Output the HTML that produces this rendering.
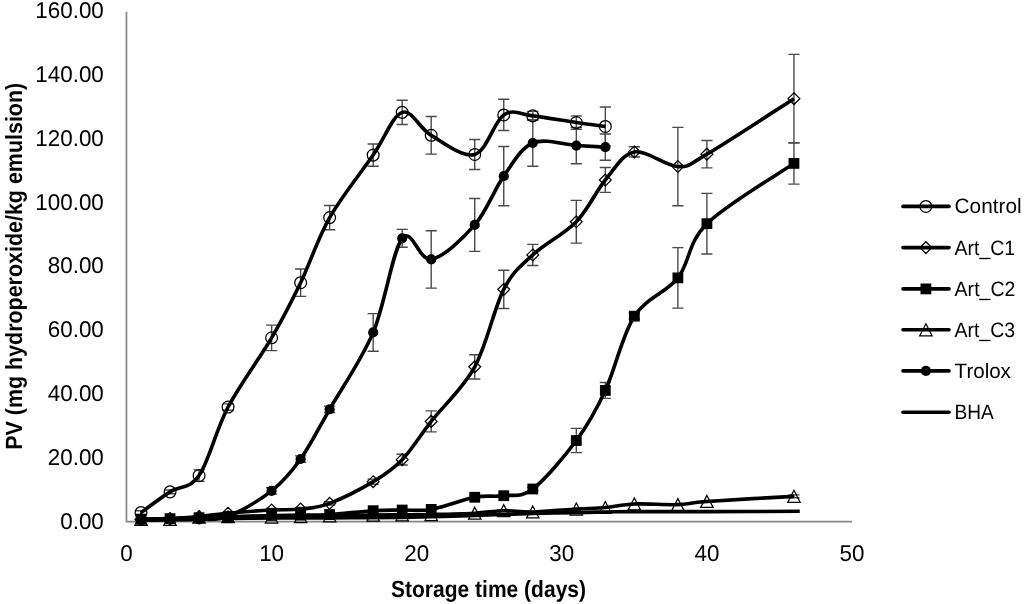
<!DOCTYPE html>
<html><head><meta charset="utf-8"><style>
html,body{margin:0;padding:0;background:#fff;}
svg{display:block;}
svg{will-change:transform;}
text{text-rendering:geometricPrecision;}
.t{font-family:"Liberation Sans",sans-serif;font-size:22.9px;fill:#000;}
.b{font-family:"Liberation Sans",sans-serif;font-size:23.4px;font-weight:bold;fill:#000;}
.l{font-family:"Liberation Sans",sans-serif;font-size:20.8px;fill:#000;}
</style></head><body>
<svg width="1024" height="604" viewBox="0 0 1024 604">
<rect width="1024" height="604" fill="#fff"/>
<path d="M126.45,11.7V521.6H852" fill="none" stroke="#868686" stroke-width="1.7"/>
<text x="103.8" y="528.60" text-anchor="end" class="t" textLength="43.59" lengthAdjust="spacingAndGlyphs">0.00</text>
<text x="103.8" y="464.82" text-anchor="end" class="t" textLength="56.05" lengthAdjust="spacingAndGlyphs">20.00</text>
<text x="103.8" y="401.04" text-anchor="end" class="t" textLength="56.05" lengthAdjust="spacingAndGlyphs">40.00</text>
<text x="103.8" y="337.26" text-anchor="end" class="t" textLength="56.05" lengthAdjust="spacingAndGlyphs">60.00</text>
<text x="103.8" y="273.48" text-anchor="end" class="t" textLength="56.05" lengthAdjust="spacingAndGlyphs">80.00</text>
<text x="103.8" y="209.70" text-anchor="end" class="t" textLength="68.48" lengthAdjust="spacingAndGlyphs">100.00</text>
<text x="103.8" y="145.92" text-anchor="end" class="t" textLength="68.48" lengthAdjust="spacingAndGlyphs">120.00</text>
<text x="103.8" y="82.14" text-anchor="end" class="t" textLength="68.48" lengthAdjust="spacingAndGlyphs">140.00</text>
<text x="103.8" y="18.36" text-anchor="end" class="t" textLength="68.48" lengthAdjust="spacingAndGlyphs">160.00</text>
<text x="126.50" y="560.6" text-anchor="middle" class="t" textLength="12.45" lengthAdjust="spacingAndGlyphs">0</text>
<text x="271.60" y="560.6" text-anchor="middle" class="t" textLength="24.90" lengthAdjust="spacingAndGlyphs">10</text>
<text x="416.70" y="560.6" text-anchor="middle" class="t" textLength="24.90" lengthAdjust="spacingAndGlyphs">20</text>
<text x="561.80" y="560.6" text-anchor="middle" class="t" textLength="24.90" lengthAdjust="spacingAndGlyphs">30</text>
<text x="706.90" y="560.6" text-anchor="middle" class="t" textLength="24.90" lengthAdjust="spacingAndGlyphs">40</text>
<text x="852.00" y="560.6" text-anchor="middle" class="t" textLength="24.90" lengthAdjust="spacingAndGlyphs">50</text>
<text x="488.5" y="597.3" text-anchor="middle" class="b" textLength="195" lengthAdjust="spacingAndGlyphs">Storage time (days)</text>
<text transform="translate(22.2,266.3) rotate(-90)" x="0" y="0" text-anchor="middle" class="b" textLength="367" lengthAdjust="spacingAndGlyphs">PV (mg hydroperoxide/kg emulsion)</text>
<path d="M141.01,510.68V514.50M135.41,510.68H146.61M135.41,514.50H146.61M170.03,489.95V493.77M164.43,489.95H175.63M164.43,493.77H175.63M199.05,469.86V481.34M193.45,469.86H204.65M193.45,481.34H204.65M228.07,403.84V410.22M222.47,403.84H233.67M222.47,410.22H233.67M271.60,325.08V350.59M266.00,325.08H277.20M266.00,350.59H277.20M300.62,268.95V296.38M295.02,268.95H306.22M295.02,296.38H306.22M329.64,205.49V229.73M324.04,205.49H335.24M324.04,229.73H335.24M373.17,143.94V166.26M367.57,143.94H378.77M367.57,166.26H378.77M402.19,100.25V124.49M396.59,100.25H407.79M396.59,124.49H407.79M431.21,116.52V154.15M425.61,116.52H436.81M425.61,154.15H436.81M474.74,139.48V169.45M469.14,139.48H480.34M469.14,169.45H480.34M503.76,99.30V130.55M498.16,99.30H509.36M498.16,130.55H509.36M532.78,111.41V120.34M527.18,111.41H538.38M527.18,120.34H538.38M576.31,115.88V129.27M570.71,115.88H581.91M570.71,129.27H581.91M605.33,106.95V145.85M599.73,106.95H610.93M599.73,145.85H610.93" fill="none" stroke="#4a4a4a" stroke-width="1.4"/>
<path d="M271.60,508.44V511.63M266.00,508.44H277.20M266.00,511.63H277.20M300.62,507.49V510.68M295.02,507.49H306.22M295.02,510.68H306.22M329.64,501.75V504.94M324.04,501.75H335.24M324.04,504.94H335.24M373.17,479.11V484.21M367.57,479.11H378.77M367.57,484.21H378.77M402.19,454.23V465.07M396.59,454.23H407.79M396.59,465.07H407.79M431.21,410.86V431.91M425.61,410.86H436.81M425.61,431.91H436.81M474.74,354.73V378.97M469.14,354.73H480.34M469.14,378.97H480.34M503.76,270.23V308.49M498.16,270.23H509.36M498.16,308.49H509.36M532.78,244.39V265.44M527.18,244.39H538.38M527.18,265.44H538.38M576.31,200.39V243.12M570.71,200.39H581.91M570.71,243.12H581.91M605.33,167.54V192.41M599.73,167.54H610.93M599.73,192.41H610.93M634.35,146.81V157.02M628.75,146.81H639.95M628.75,157.02H639.95M677.88,127.36V205.81M672.28,127.36H683.48M672.28,205.81H683.48M706.90,140.43V167.86M701.30,140.43H712.50M701.30,167.86H712.50M793.96,54.33V142.98M788.36,54.33H799.56M788.36,142.98H799.56" fill="none" stroke="#4a4a4a" stroke-width="1.4"/>
<path d="M474.74,495.69V498.88M469.14,495.69H480.34M469.14,498.88H480.34M503.76,494.09V497.28M498.16,494.09H509.36M498.16,497.28H509.36M532.78,487.40V490.59M527.18,487.40H538.38M527.18,490.59H538.38M576.31,428.40V452.64M570.71,428.40H581.91M570.71,452.64H581.91M605.33,382.48V398.42M599.73,382.48H610.93M599.73,398.42H610.93M634.35,312.96V319.34M628.75,312.96H639.95M628.75,319.34H639.95M677.88,247.58V308.17M672.28,247.58H683.48M672.28,308.17H683.48M706.90,193.37V253.96M701.30,193.37H712.50M701.30,253.96H712.50M793.96,142.67V184.12M788.36,142.67H799.56M788.36,184.12H799.56" fill="none" stroke="#4a4a4a" stroke-width="1.4"/>
<path d="M793.96,494.89V497.76M788.36,494.89H799.56M788.36,497.76H799.56" fill="none" stroke="#4a4a4a" stroke-width="1.4"/>
<path d="M199.05,517.69V520.88M193.45,517.69H204.65M193.45,520.88H204.65M228.07,514.82V518.01M222.47,514.82H233.67M222.47,518.01H233.67M271.60,487.72V494.09M266.00,487.72H277.20M266.00,494.09H277.20M300.62,455.83V462.20M295.02,455.83H306.22M295.02,462.20H306.22M329.64,406.08V412.46M324.04,406.08H335.24M324.04,412.46H335.24M373.17,313.60V351.23M367.57,313.60H378.77M367.57,351.23H378.77M402.19,229.41V247.26M396.59,229.41H407.79M396.59,247.26H407.79M431.21,230.68V288.08M425.61,230.68H436.81M425.61,288.08H436.81M474.74,198.47V251.41M469.14,198.47H480.34M469.14,251.41H480.34M503.76,146.49V205.81M498.16,146.49H509.36M498.16,205.81H509.36M532.78,119.70V166.26M527.18,119.70H538.38M527.18,166.26H538.38M576.31,127.36V163.71M570.71,127.36H581.91M570.71,163.71H581.91M605.33,134.06V160.21M599.73,134.06H610.93M599.73,160.21H610.93" fill="none" stroke="#4a4a4a" stroke-width="1.4"/>
<path d="M141.01,512.59 C145.85,509.13 160.36,498.03 170.03,491.86 C179.70,485.70 189.38,489.74 199.05,475.60 C208.72,461.46 215.98,429.99 228.07,407.03 C240.16,384.07 259.51,358.56 271.60,337.83 C283.69,317.10 290.95,302.70 300.62,282.66 C310.29,262.63 317.55,238.87 329.64,217.61 C341.73,196.35 361.08,172.64 373.17,155.10 C385.26,137.56 392.52,115.67 402.19,112.37 C411.86,109.07 419.12,128.32 431.21,135.33 C443.30,142.35 462.65,157.87 474.74,154.47 C486.83,151.06 494.09,121.35 503.76,114.92 C513.43,108.49 520.69,114.60 532.78,115.88 C544.87,117.15 564.22,120.82 576.31,122.58 C588.40,124.33 600.49,125.76 605.33,126.40" fill="none" stroke="#000" stroke-width="3.6" stroke-linejoin="round" stroke-linecap="butt"/>
<circle cx="141.01" cy="512.59" r="5.9" fill="none" stroke="#000" stroke-width="1.25"/><circle cx="170.03" cy="491.86" r="5.9" fill="none" stroke="#000" stroke-width="1.25"/><circle cx="199.05" cy="475.60" r="5.9" fill="none" stroke="#000" stroke-width="1.25"/><circle cx="228.07" cy="407.03" r="5.9" fill="none" stroke="#000" stroke-width="1.25"/><circle cx="271.60" cy="337.83" r="5.9" fill="none" stroke="#000" stroke-width="1.25"/><circle cx="300.62" cy="282.66" r="5.9" fill="none" stroke="#000" stroke-width="1.25"/><circle cx="329.64" cy="217.61" r="5.9" fill="none" stroke="#000" stroke-width="1.25"/><circle cx="373.17" cy="155.10" r="5.9" fill="none" stroke="#000" stroke-width="1.25"/><circle cx="402.19" cy="112.37" r="5.9" fill="none" stroke="#000" stroke-width="1.25"/><circle cx="431.21" cy="135.33" r="5.9" fill="none" stroke="#000" stroke-width="1.25"/><circle cx="474.74" cy="154.47" r="5.9" fill="none" stroke="#000" stroke-width="1.25"/><circle cx="503.76" cy="114.92" r="5.9" fill="none" stroke="#000" stroke-width="1.25"/><circle cx="532.78" cy="115.88" r="5.9" fill="none" stroke="#000" stroke-width="1.25"/><circle cx="576.31" cy="122.58" r="5.9" fill="none" stroke="#000" stroke-width="1.25"/><circle cx="605.33" cy="126.40" r="5.9" fill="none" stroke="#000" stroke-width="1.25"/>
<path d="M141.01,519.61 C145.85,519.45 160.36,519.18 170.03,518.65 C179.70,518.12 189.38,517.32 199.05,516.42 C208.72,515.51 215.98,514.29 228.07,513.23 C240.16,512.16 259.51,510.73 271.60,510.04 C283.69,509.35 290.95,510.20 300.62,509.08 C310.29,507.97 317.55,507.91 329.64,503.34 C341.73,498.77 361.08,488.94 373.17,481.66 C385.26,474.37 392.52,469.70 402.19,459.65 C411.86,449.61 419.12,436.85 431.21,421.38 C443.30,405.92 462.65,388.86 474.74,366.85 C486.83,344.85 494.09,308.02 503.76,289.36 C513.43,270.70 520.69,266.19 532.78,254.92 C544.87,243.65 564.22,234.24 576.31,221.75 C588.40,209.26 595.66,191.62 605.33,179.98 C615.00,168.34 622.26,154.15 634.35,151.91 C646.44,149.68 665.79,166.21 677.88,166.58 C689.97,166.96 687.55,165.47 706.90,154.15 C726.25,142.83 779.45,107.91 793.96,98.66" fill="none" stroke="#000" stroke-width="3.6" stroke-linejoin="round" stroke-linecap="butt"/>
<path d="M141.01,513.71L146.91,519.61L141.01,525.51L135.11,519.61Z" fill="none" stroke="#000" stroke-width="1.25"/><path d="M170.03,512.75L175.93,518.65L170.03,524.55L164.13,518.65Z" fill="none" stroke="#000" stroke-width="1.25"/><path d="M199.05,510.52L204.95,516.42L199.05,522.32L193.15,516.42Z" fill="none" stroke="#000" stroke-width="1.25"/><path d="M228.07,507.33L233.97,513.23L228.07,519.13L222.17,513.23Z" fill="none" stroke="#000" stroke-width="1.25"/><path d="M271.60,504.14L277.50,510.04L271.60,515.94L265.70,510.04Z" fill="none" stroke="#000" stroke-width="1.25"/><path d="M300.62,503.18L306.52,509.08L300.62,514.98L294.72,509.08Z" fill="none" stroke="#000" stroke-width="1.25"/><path d="M329.64,497.44L335.54,503.34L329.64,509.24L323.74,503.34Z" fill="none" stroke="#000" stroke-width="1.25"/><path d="M373.17,475.76L379.07,481.66L373.17,487.56L367.27,481.66Z" fill="none" stroke="#000" stroke-width="1.25"/><path d="M402.19,453.75L408.09,459.65L402.19,465.55L396.29,459.65Z" fill="none" stroke="#000" stroke-width="1.25"/><path d="M431.21,415.48L437.11,421.38L431.21,427.28L425.31,421.38Z" fill="none" stroke="#000" stroke-width="1.25"/><path d="M474.74,360.95L480.64,366.85L474.74,372.75L468.84,366.85Z" fill="none" stroke="#000" stroke-width="1.25"/><path d="M503.76,283.46L509.66,289.36L503.76,295.26L497.86,289.36Z" fill="none" stroke="#000" stroke-width="1.25"/><path d="M532.78,249.02L538.68,254.92L532.78,260.82L526.88,254.92Z" fill="none" stroke="#000" stroke-width="1.25"/><path d="M576.31,215.85L582.21,221.75L576.31,227.65L570.41,221.75Z" fill="none" stroke="#000" stroke-width="1.25"/><path d="M605.33,174.08L611.23,179.98L605.33,185.88L599.43,179.98Z" fill="none" stroke="#000" stroke-width="1.25"/><path d="M634.35,146.01L640.25,151.91L634.35,157.81L628.45,151.91Z" fill="none" stroke="#000" stroke-width="1.25"/><path d="M677.88,160.68L683.78,166.58L677.88,172.48L671.98,166.58Z" fill="none" stroke="#000" stroke-width="1.25"/><path d="M706.90,148.25L712.80,154.15L706.90,160.05L701.00,154.15Z" fill="none" stroke="#000" stroke-width="1.25"/><path d="M793.96,92.76L799.86,98.66L793.96,104.56L788.06,98.66Z" fill="none" stroke="#000" stroke-width="1.25"/>
<path d="M141.01,519.29 C145.85,519.18 160.36,518.91 170.03,518.65 C179.70,518.38 189.38,518.01 199.05,517.69 C208.72,517.37 215.98,517.11 228.07,516.74 C240.16,516.36 259.51,515.73 271.60,515.46 C283.69,515.19 290.95,515.30 300.62,515.14 C310.29,514.98 317.55,515.25 329.64,514.50 C341.73,513.76 361.08,511.42 373.17,510.68 C385.26,509.93 392.52,510.25 402.19,510.04 C411.86,509.83 419.12,511.53 431.21,509.40 C443.30,507.27 462.65,499.57 474.74,497.28 C486.83,495.00 494.09,497.07 503.76,495.69 C513.43,494.31 520.69,498.19 532.78,488.99 C544.87,479.80 564.22,456.94 576.31,440.52 C588.40,424.09 595.66,411.18 605.33,390.45 C615.00,369.72 622.26,334.91 634.35,316.15 C646.44,297.39 665.79,293.29 677.88,277.88 C689.97,262.47 687.55,242.75 706.90,223.67 C726.25,204.59 779.45,173.44 793.96,163.39" fill="none" stroke="#000" stroke-width="3.6" stroke-linejoin="round" stroke-linecap="butt"/>
<rect x="135.61" y="513.89" width="10.8" height="10.8" fill="#000"/><rect x="164.63" y="513.25" width="10.8" height="10.8" fill="#000"/><rect x="193.65" y="512.29" width="10.8" height="10.8" fill="#000"/><rect x="222.67" y="511.34" width="10.8" height="10.8" fill="#000"/><rect x="266.20" y="510.06" width="10.8" height="10.8" fill="#000"/><rect x="295.22" y="509.74" width="10.8" height="10.8" fill="#000"/><rect x="324.24" y="509.10" width="10.8" height="10.8" fill="#000"/><rect x="367.77" y="505.28" width="10.8" height="10.8" fill="#000"/><rect x="396.79" y="504.64" width="10.8" height="10.8" fill="#000"/><rect x="425.81" y="504.00" width="10.8" height="10.8" fill="#000"/><rect x="469.34" y="491.88" width="10.8" height="10.8" fill="#000"/><rect x="498.36" y="490.29" width="10.8" height="10.8" fill="#000"/><rect x="527.38" y="483.59" width="10.8" height="10.8" fill="#000"/><rect x="570.91" y="435.12" width="10.8" height="10.8" fill="#000"/><rect x="599.93" y="385.05" width="10.8" height="10.8" fill="#000"/><rect x="628.95" y="310.75" width="10.8" height="10.8" fill="#000"/><rect x="672.48" y="272.48" width="10.8" height="10.8" fill="#000"/><rect x="701.50" y="218.27" width="10.8" height="10.8" fill="#000"/><rect x="788.56" y="157.99" width="10.8" height="10.8" fill="#000"/>
<path d="M141.01,519.29 C145.85,519.29 160.36,519.66 170.03,519.29 C179.70,518.91 189.38,517.48 199.05,517.05 C208.72,516.63 215.98,516.74 228.07,516.74 C240.16,516.74 259.51,517.05 271.60,517.05 C283.69,517.05 290.95,516.95 300.62,516.74 C310.29,516.52 317.55,516.04 329.64,515.78 C341.73,515.51 361.08,515.30 373.17,515.14 C385.26,514.98 392.52,514.93 402.19,514.82 C411.86,514.72 419.12,514.77 431.21,514.50 C443.30,514.24 462.65,513.87 474.74,513.23 C486.83,512.59 494.09,510.89 503.76,510.68 C513.43,510.46 520.69,512.22 532.78,511.95 C544.87,511.69 564.22,509.83 576.31,509.08 C588.40,508.34 595.66,508.34 605.33,507.49 C615.00,506.64 622.26,504.46 634.35,503.98 C646.44,503.50 665.79,505.04 677.88,504.62 C689.97,504.19 687.55,502.81 706.90,501.43 C726.25,500.05 779.45,497.18 793.96,496.33" fill="none" stroke="#000" stroke-width="3.6" stroke-linejoin="round" stroke-linecap="butt"/>
<path d="M141.01,513.29L147.21,525.29L134.81,525.29Z" fill="none" stroke="#000" stroke-width="1.25" stroke-linejoin="miter"/><path d="M170.03,513.29L176.23,525.29L163.83,525.29Z" fill="none" stroke="#000" stroke-width="1.25" stroke-linejoin="miter"/><path d="M199.05,511.05L205.25,523.05L192.85,523.05Z" fill="none" stroke="#000" stroke-width="1.25" stroke-linejoin="miter"/><path d="M228.07,510.74L234.27,522.74L221.87,522.74Z" fill="none" stroke="#000" stroke-width="1.25" stroke-linejoin="miter"/><path d="M271.60,511.05L277.80,523.05L265.40,523.05Z" fill="none" stroke="#000" stroke-width="1.25" stroke-linejoin="miter"/><path d="M300.62,510.74L306.82,522.74L294.42,522.74Z" fill="none" stroke="#000" stroke-width="1.25" stroke-linejoin="miter"/><path d="M329.64,509.78L335.84,521.78L323.44,521.78Z" fill="none" stroke="#000" stroke-width="1.25" stroke-linejoin="miter"/><path d="M373.17,509.14L379.37,521.14L366.97,521.14Z" fill="none" stroke="#000" stroke-width="1.25" stroke-linejoin="miter"/><path d="M402.19,508.82L408.39,520.82L395.99,520.82Z" fill="none" stroke="#000" stroke-width="1.25" stroke-linejoin="miter"/><path d="M431.21,508.50L437.41,520.50L425.01,520.50Z" fill="none" stroke="#000" stroke-width="1.25" stroke-linejoin="miter"/><path d="M474.74,507.23L480.94,519.23L468.54,519.23Z" fill="none" stroke="#000" stroke-width="1.25" stroke-linejoin="miter"/><path d="M503.76,504.68L509.96,516.68L497.56,516.68Z" fill="none" stroke="#000" stroke-width="1.25" stroke-linejoin="miter"/><path d="M532.78,505.95L538.98,517.95L526.58,517.95Z" fill="none" stroke="#000" stroke-width="1.25" stroke-linejoin="miter"/><path d="M576.31,503.08L582.51,515.08L570.11,515.08Z" fill="none" stroke="#000" stroke-width="1.25" stroke-linejoin="miter"/><path d="M605.33,501.49L611.53,513.49L599.13,513.49Z" fill="none" stroke="#000" stroke-width="1.25" stroke-linejoin="miter"/><path d="M634.35,497.98L640.55,509.98L628.15,509.98Z" fill="none" stroke="#000" stroke-width="1.25" stroke-linejoin="miter"/><path d="M677.88,498.62L684.08,510.62L671.68,510.62Z" fill="none" stroke="#000" stroke-width="1.25" stroke-linejoin="miter"/><path d="M706.90,495.43L713.10,507.43L700.70,507.43Z" fill="none" stroke="#000" stroke-width="1.25" stroke-linejoin="miter"/><path d="M793.96,490.33L800.16,502.33L787.76,502.33Z" fill="none" stroke="#000" stroke-width="1.25" stroke-linejoin="miter"/>
<path d="M141.01,520.24 C145.85,520.14 160.36,519.76 170.03,519.61 C179.70,519.45 189.38,519.82 199.05,519.29 C208.72,518.76 215.98,521.15 228.07,516.42 C240.16,511.69 259.51,500.47 271.60,490.90 C283.69,481.34 290.95,472.62 300.62,459.01 C310.29,445.41 317.55,430.37 329.64,409.27 C341.73,388.17 361.08,360.90 373.17,332.41 C385.26,303.92 392.52,250.51 402.19,238.34 C411.86,226.16 419.12,261.62 431.21,259.38 C443.30,257.15 462.65,238.81 474.74,224.94 C486.83,211.07 494.09,189.81 503.76,176.15 C513.43,162.49 520.69,148.09 532.78,142.98 C544.87,137.88 564.22,144.84 576.31,145.54 C588.40,146.23 600.49,146.86 605.33,147.13" fill="none" stroke="#000" stroke-width="3.6" stroke-linejoin="round" stroke-linecap="butt"/>
<circle cx="141.01" cy="520.24" r="5.1" fill="#000"/><circle cx="170.03" cy="519.61" r="5.1" fill="#000"/><circle cx="199.05" cy="519.29" r="5.1" fill="#000"/><circle cx="228.07" cy="516.42" r="5.1" fill="#000"/><circle cx="271.60" cy="490.90" r="5.1" fill="#000"/><circle cx="300.62" cy="459.01" r="5.1" fill="#000"/><circle cx="329.64" cy="409.27" r="5.1" fill="#000"/><circle cx="373.17" cy="332.41" r="5.1" fill="#000"/><circle cx="402.19" cy="238.34" r="5.1" fill="#000"/><circle cx="431.21" cy="259.38" r="5.1" fill="#000"/><circle cx="474.74" cy="224.94" r="5.1" fill="#000"/><circle cx="503.76" cy="176.15" r="5.1" fill="#000"/><circle cx="532.78" cy="142.98" r="5.1" fill="#000"/><circle cx="576.31" cy="145.54" r="5.1" fill="#000"/><circle cx="605.33" cy="147.13" r="5.1" fill="#000"/>
<path d="M141.01,520.24 C145.85,520.14 160.36,519.87 170.03,519.61 C179.70,519.34 189.38,518.86 199.05,518.65 C208.72,518.44 215.98,518.44 228.07,518.33 C240.16,518.22 259.51,518.06 271.60,518.01 C283.69,517.96 290.95,518.04 300.62,518.01 C310.29,517.98 317.55,517.90 329.64,517.85 C341.73,517.80 361.08,517.77 373.17,517.69 C385.26,517.61 392.52,517.53 402.19,517.37 C411.86,517.21 419.12,517.05 431.21,516.74 C443.30,516.42 462.65,515.83 474.74,515.46 C486.83,515.09 494.09,514.82 503.76,514.50 C513.43,514.18 520.69,513.87 532.78,513.55 C544.87,513.23 564.22,512.86 576.31,512.59 C588.40,512.32 595.66,512.11 605.33,511.95 C615.00,511.79 622.26,511.69 634.35,511.63 C646.44,511.58 665.79,511.63 677.88,511.63 C689.97,511.63 686.59,511.69 706.90,511.63 C727.21,511.58 784.29,511.37 799.76,511.31" fill="none" stroke="#000" stroke-width="3.6" stroke-linejoin="round" stroke-linecap="butt"/>
<path d="M903,206.40H949" stroke="#000" stroke-width="3.6" stroke-linecap="round"/>
<circle cx="925.90" cy="206.40" r="5.9" fill="none" stroke="#000" stroke-width="1.25"/>
<text x="954.6" y="213.30" class="l" textLength="67.0" lengthAdjust="spacingAndGlyphs">Control</text>
<path d="M903,247.60H949" stroke="#000" stroke-width="3.6" stroke-linecap="round"/>
<path d="M925.90,241.70L931.80,247.60L925.90,253.50L920.00,247.60Z" fill="none" stroke="#000" stroke-width="1.25"/>
<text x="954.6" y="254.50" class="l" textLength="60.6" lengthAdjust="spacingAndGlyphs">Art_C1</text>
<path d="M903,288.90H949" stroke="#000" stroke-width="3.6" stroke-linecap="round"/>
<rect x="920.50" y="283.50" width="10.8" height="10.8" fill="#000"/>
<text x="954.6" y="295.80" class="l" textLength="60.8" lengthAdjust="spacingAndGlyphs">Art_C2</text>
<path d="M903,329.80H949" stroke="#000" stroke-width="3.6" stroke-linecap="round"/>
<path d="M925.90,323.80L932.10,335.80L919.70,335.80Z" fill="none" stroke="#000" stroke-width="1.25" stroke-linejoin="miter"/>
<text x="954.6" y="336.70" class="l" textLength="60.6" lengthAdjust="spacingAndGlyphs">Art_C3</text>
<path d="M903,370.90H949" stroke="#000" stroke-width="3.6" stroke-linecap="round"/>
<circle cx="925.90" cy="370.90" r="5.1" fill="#000"/>
<text x="954.6" y="377.80" class="l" textLength="56.3" lengthAdjust="spacingAndGlyphs">Trolox</text>
<path d="M903,412.30H949" stroke="#000" stroke-width="3.6" stroke-linecap="round"/>
<text x="954.6" y="419.20" class="l" textLength="39.2" lengthAdjust="spacingAndGlyphs">BHA</text>
</svg>
</body></html>
